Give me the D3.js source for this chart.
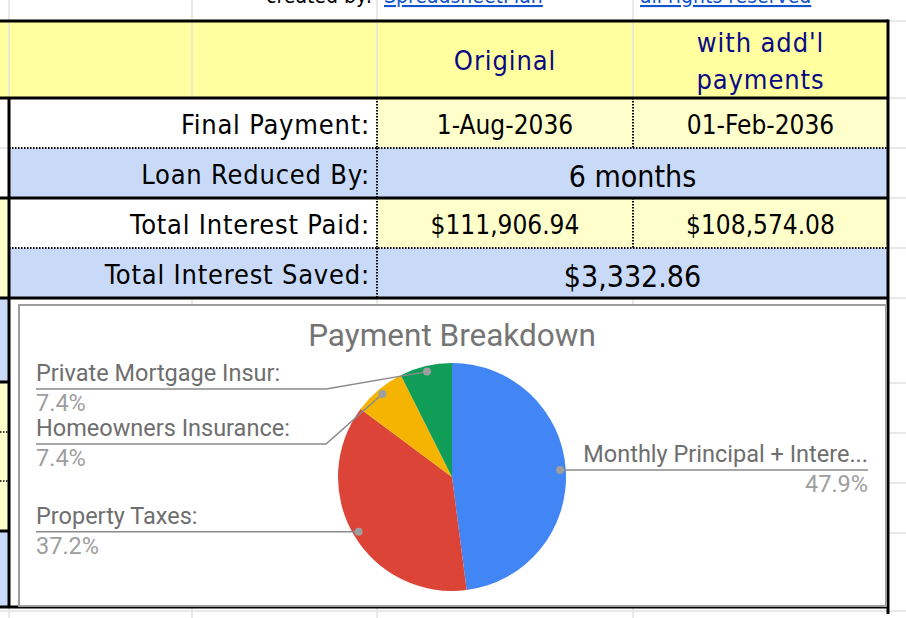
<!DOCTYPE html>
<html>
<head>
<meta charset="utf-8">
<script src="https://cdn.jsdelivr.net/npm/d3@7"></script>
<style>
  html, body { margin: 0; padding: 0; background: #fff; }
  svg { display: block; }
  .cell-txt { font-family: "DejaVu Sans Condensed", "DejaVu Sans", sans-serif; }
  .gc { font-family: Roboto, "Noto Sans", sans-serif; }
</style>
</head>
<body>
<svg id="sheet" width="906" height="618"></svg>
<script>
// ---- data ----
const headerCols = ["Original", "with add'l payments"];
const rowLabels = ["Final Payment:", "Loan Reduced By:", "Total Interest Paid:", "Total Interest Saved:"];
const originalVals = ["1-Aug-2036", null, "$111,906.94", null];
const addlVals = ["01-Feb-2036", null, "$108,574.08", null];
const mergedVals = [null, "6 months", null, "$3,332.86"];

const categories = ["Monthly Principal + Interest", "Property Taxes", "Homeowners Insurance", "Private Mortgage Insurance"];
const shownLabels = ["Monthly Principal + Intere...", "Property Taxes:", "Homeowners Insurance:", "Private Mortgage Insur:"];
const shares = [47.9, 37.2, 7.4, 7.4];
const sliceColors = ["#4285f4", "#db4437", "#f4b400", "#0f9d58"];

const svg = d3.select("#sheet");
const W = 906, H = 618;

// ---- sheet layout ----
const colX = [9, 377, 633, 888];     // label | original | add'l | right edge
const headTop = 21, headBot = 98;
const rowY = d3.scaleBand().domain(rowLabels).range([headBot, 298]);
const YEL = "#ffff9f", LYEL = "#ffffcc", BLUE = "#c9daf8", GRID = "#e2e2e2";

// background cells (left strip + grid)
const g0 = svg.append("g");
g0.append("rect").attr("x", 0).attr("y", headTop).attr("width", colX[3]).attr("height", headBot - headTop).attr("fill", YEL);
// left strip cells
[[198, 298, LYEL], [298, 382, BLUE], [382, 531, LYEL], [531, 606, BLUE]].forEach(function(c) {
  g0.append("rect").attr("x", 0).attr("y", c[0]).attr("width", colX[0]).attr("height", c[1] - c[0]).attr("fill", c[2]);
});
// faint gridlines
[192, 377, 633].forEach(function(x) {
  g0.append("line").attr("x1", x).attr("x2", x).attr("y1", 0).attr("y2", H).attr("stroke", GRID).attr("stroke-width", 1.5);
});
g0.append("line").attr("x1", colX[0]).attr("x2", colX[0]).attr("y1", 0).attr("y2", H).attr("stroke", GRID).attr("stroke-width", 1.5);
[21, 98, 148, 198, 248, 298, 383, 433, 483, 533].forEach(function(y) {
  g0.append("line").attr("x1", colX[3]).attr("x2", W).attr("y1", y).attr("y2", y).attr("stroke", GRID).attr("stroke-width", 1.5);
});
g0.append("line").attr("x1", 0).attr("x2", colX[0]).attr("y1", 148).attr("y2", 148).attr("stroke", GRID).attr("stroke-width", 1.5);
g0.append("line").attr("x1", 0).attr("x2", W).attr("y1", 611).attr("y2", 611).attr("stroke", GRID).attr("stroke-width", 1.5);
[432, 481].forEach(function(y) {
  g0.append("line").attr("x1", 0).attr("x2", colX[0]).attr("y1", y).attr("y2", y)
    .attr("stroke", "#000").attr("stroke-width", 1.5).attr("stroke-dasharray", "1.5,1.5");
});

// body cells
const body = svg.append("g");
rowLabels.forEach(function(lab, i) {
  const y = rowY(lab), h = rowY.bandwidth();
  const merged = mergedVals[i] !== null;
  body.append("rect").attr("x", colX[0]).attr("y", y).attr("width", colX[3] - colX[0]).attr("height", h)
    .attr("fill", merged ? BLUE : "#fff");
  if (!merged) {
    body.append("rect").attr("x", colX[1]).attr("y", y).attr("width", colX[3] - colX[1]).attr("height", h).attr("fill", LYEL);
  }
});

// top row text (cut by the top of the window, as in the sheet)
const topRow = svg.append("g").attr("class", "cell-txt").attr("font-size", 21);
topRow.append("text").attr("x", 372).attr("y", 3).attr("text-anchor", "end").attr("fill", "#000").text("created by:");
[["SpreadsheetMan", 384], ["all rights reserved", 640]].forEach(function(d) {
  topRow.append("text").attr("x", d[1]).attr("y", 3).attr("fill", "#1155cc").attr("text-decoration", "underline").text(d[0]);
});

// header text
const head = svg.append("g").attr("class", "cell-txt").attr("fill", "#0a0a84").attr("font-size", 27)
  .attr("letter-spacing", 0.9).attr("text-anchor", "middle");
head.append("text").attr("x", (colX[1] + colX[2]) / 2).attr("y", 70).text(headerCols[0]);
const hw = headerCols[1].split(" ");
head.append("text").attr("x", (colX[2] + colX[3]) / 2).attr("y", 52).text(hw.slice(0, 2).join(" "));
head.append("text").attr("x", (colX[2] + colX[3]) / 2).attr("y", 89).text(hw[2]);

// body text
const txt = svg.append("g").attr("class", "cell-txt").attr("fill", "#000");
rowLabels.forEach(function(lab, i) {
  const y = rowY(lab), h = rowY.bandwidth();
  txt.append("text").attr("x", colX[1] - 7).attr("y", y + h - 14).attr("text-anchor", "end")
    .attr("font-size", 27).attr("letter-spacing", 0.8).text(lab);
  if (mergedVals[i] !== null) {
    txt.append("text").attr("x", (colX[1] + colX[3]) / 2).attr("y", y + h - 11).attr("text-anchor", "middle")
      .attr("font-size", 30).text(mergedVals[i]);
  } else {
    txt.append("text").attr("x", (colX[1] + colX[2]) / 2).attr("y", y + h - 14).attr("text-anchor", "middle")
      .attr("font-size", 26).text(originalVals[i]);
    txt.append("text").attr("x", (colX[2] + colX[3]) / 2).attr("y", y + h - 14).attr("text-anchor", "middle")
      .attr("font-size", 26).text(addlVals[i]);
  }
});

// borders
const bd = svg.append("g").attr("stroke", "#000").attr("fill", "none");
const dots = "1.5,1.5";
bd.append("line").attr("x1", 0).attr("x2", colX[3]).attr("y1", headTop).attr("y2", headTop).attr("stroke-width", 3);
bd.append("line").attr("x1", 0).attr("x2", colX[3]).attr("y1", headBot).attr("y2", headBot).attr("stroke-width", 3);
bd.append("line").attr("x1", colX[3]).attr("x2", colX[3]).attr("y1", headTop - 1.5).attr("y2", 614).attr("stroke-width", 3);
bd.append("line").attr("x1", colX[0]).attr("x2", colX[0]).attr("y1", headBot).attr("y2", 608).attr("stroke-width", 3);
[148, 248].forEach(function(y) {
  bd.append("line").attr("x1", colX[0]).attr("x2", colX[3]).attr("y1", y).attr("y2", y).attr("stroke-width", 2).attr("stroke-dasharray", dots);
});
[198, 298].forEach(function(y) {
  bd.append("line").attr("x1", 0).attr("x2", colX[3]).attr("y1", y).attr("y2", y).attr("stroke-width", 3);
});
[382, 531].forEach(function(y) {
  bd.append("line").attr("x1", 0).attr("x2", colX[0]).attr("y1", y).attr("y2", y).attr("stroke-width", 3);
});
bd.append("line").attr("x1", 0).attr("x2", colX[3]).attr("y1", 607).attr("y2", 607).attr("stroke-width", 3);
rowLabels.forEach(function(lab, i) {
  const y = rowY(lab), h = rowY.bandwidth();
  bd.append("line").attr("x1", colX[1]).attr("x2", colX[1]).attr("y1", y).attr("y2", y + h).attr("stroke-width", 2).attr("stroke-dasharray", dots);
  if (mergedVals[i] === null) {
    bd.append("line").attr("x1", colX[2]).attr("x2", colX[2]).attr("y1", y).attr("y2", y + h).attr("stroke-width", 2).attr("stroke-dasharray", dots);
  }
});

// ---- pie chart ----
const box = { x: 19, y: 305, w: 867, h: 301 };
const gc = svg.append("g").attr("class", "gc");
gc.append("rect").attr("x", box.x).attr("y", box.y).attr("width", box.w).attr("height", box.h)
  .attr("fill", "#fff").attr("stroke", "#9e9e9e").attr("stroke-width", 2);
gc.append("text").attr("x", 452).attr("y", 346).attr("text-anchor", "middle")
  .attr("fill", "#757575").attr("font-size", 31.5).text("Payment Breakdown");

const cx = 452, cy = 477, R = 114;
const pie = d3.pie().sort(null).value(function(d) { return d; });
const arcs = pie(shares);
const arc = d3.arc().innerRadius(0).outerRadius(R);
const pg = gc.append("g").attr("transform", "translate(" + cx + "," + cy + ")");
pg.selectAll("path").data(arcs).enter().append("path")
  .attr("d", arc).attr("fill", function(d, i) { return sliceColors[i]; });

// label anchors
const anchors = arcs.map(function(a, i) {
  const m = (a.startAngle + a.endAngle) / 2;
  return { i: i, x: cx + 0.95 * R * Math.sin(m), y: cy - 0.95 * R * Math.cos(m), left: Math.sin(m) < 0 };
});
// stack left labels so they don't overlap
const leftA = anchors.filter(function(a) { return a.left; }).sort(function(a, b) { return a.y - b.y; });
let prev = -Infinity;
leftA.forEach(function(a) {
  a.ly = Math.max(a.y, cy - R + 26, prev + 55);
  prev = a.ly;
});
anchors.filter(function(a) { return !a.left; }).forEach(function(a) { a.ly = a.y; });

const lx0 = 36, bendX = 326, rx1 = 868;
const lg = gc.append("g").attr("font-size", 23.5);
anchors.forEach(function(a) {
  const pts = a.left
    ? (Math.abs(a.ly - a.y) < 1 ? [[lx0, a.ly], [a.x, a.y]] : [[lx0, a.ly], [bendX, a.ly], [a.x, a.y]])
    : [[a.x, a.y], [rx1, a.ly]];
  lg.append("path").attr("d", d3.line()(pts)).attr("fill", "none").attr("stroke", "#8a8a8a").attr("stroke-width", 1.5);
  lg.append("circle").attr("cx", a.x).attr("cy", a.y).attr("r", 4).attr("fill", "#9e9e9e");
  const tx = a.left ? lx0 : rx1, anchor = a.left ? "start" : "end";
  lg.append("text").attr("x", tx).attr("y", a.ly - 8).attr("text-anchor", anchor).attr("fill", "#6e6e6e").text(shownLabels[a.i]);
  lg.append("text").attr("x", tx).attr("y", a.ly + 22).attr("text-anchor", anchor).attr("fill", "#9e9e9e")
    .text(d3.format(".1f")(shares[a.i]) + "%");
});
</script>
</body>
</html>
